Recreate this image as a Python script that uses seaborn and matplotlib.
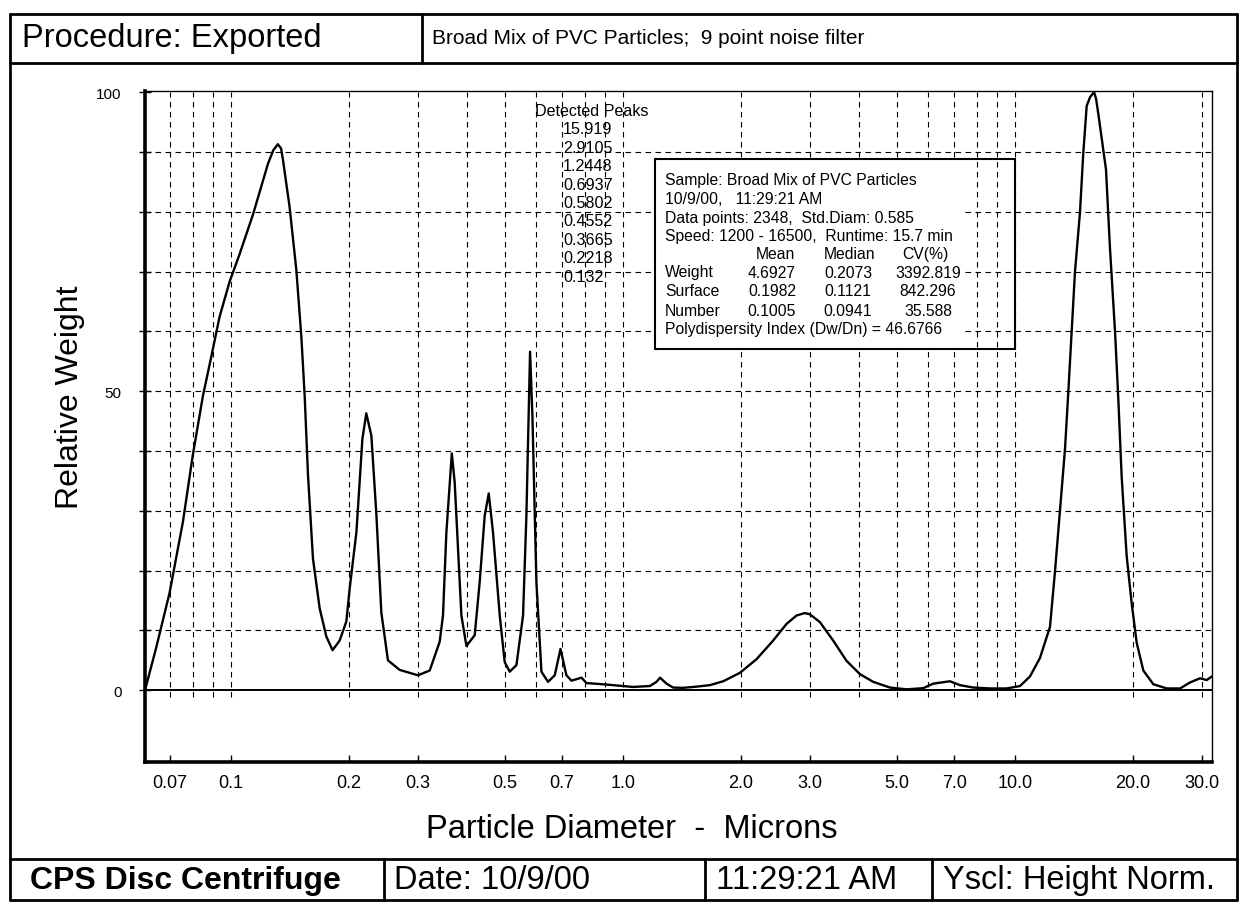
import numpy as np
import pandas as pd
import seaborn as sns
import matplotlib.pyplot as plt
from matplotlib.lines import Line2D
from matplotlib.patches import Rectangle
from matplotlib.ticker import NullLocator

## data
diameter = [0.0605, 0.0646, 0.0699, 0.0756, 0.0801, 0.0850, 0.0893, 0.0937, 0.0994, 0.1054,
            0.114, 0.1245, 0.1285, 0.132, 0.1345, 0.136, 0.1414, 0.1471, 0.1515, 0.1545,
            0.1575, 0.1622, 0.1687, 0.1754, 0.182, 0.1897, 0.1973, 0.2012, 0.2093, 0.2168,
            0.2218, 0.2285, 0.2353, 0.2423, 0.2519, 0.2699, 0.3005, 0.3219, 0.3413, 0.348,
            0.355, 0.3665, 0.3727, 0.38, 0.3877, 0.3993, 0.4192, 0.4317, 0.4446, 0.4552,
            0.4668, 0.4856, 0.5, 0.5149, 0.5356, 0.5568, 0.5679, 0.5802, 0.5883, 0.6022,
            0.6203, 0.6448, 0.6707, 0.6937, 0.7183, 0.7398, 0.785, 0.8078, 0.9088, 1.0605,
            1.1719, 1.219, 1.2448, 1.2926, 1.3437, 1.4249, 1.5417, 1.6672, 1.803, 1.9883,
            2.1938, 2.4172, 2.6161, 2.7745, 2.9105, 2.9992, 3.1807, 3.4399, 3.7213, 4.0236,
            4.3511, 4.7986, 5.2919, 5.8372, 6.1885, 6.8265, 7.2394, 7.8268, 8.6358, 9.5238,
            10.299, 10.922, 11.583, 12.284, 12.647, 13.024, 13.414, 13.677, 13.95, 14.225,
            14.648, 14.935, 15.236, 15.55, 15.919, 16.1, 16.312, 17.065, 17.47, 17.991,
            18.343, 18.714, 19.271, 19.846, 20.441, 21.249, 22.533, 24.378, 26.363, 27.954,
            29.643, 30.832, 31.753]
weight = [0, 7.1, 16.3, 28.2, 39.3, 49.2, 55.8, 62.4, 68.3, 72.9,
          79.5, 88.0, 90.3, 91.3, 90.6, 88.7, 80.8, 70.3, 59.1, 49.2,
          36.1, 22.0, 13.7, 9.0, 6.7, 8.3, 11.5, 17.0, 26.4, 42.0,
          46.3, 42.6, 29.5, 13.0, 5.0, 3.4, 2.5, 3.3, 8.1, 12.5,
          26.4, 39.6, 34.8, 23.7, 12.5, 7.4, 9.2, 18.1, 29.2, 32.9,
          26.4, 12.5, 4.7, 3.1, 4.2, 12.5, 29.2, 56.6, 45.9, 18.1,
          3.1, 1.4, 2.5, 6.9, 2.5, 1.6, 2.1, 1.2, 0.95, 0.55,
          0.7, 1.4, 2.1, 1.1, 0.45, 0.4, 0.6, 0.85, 1.5, 2.9,
          5.2, 8.3, 11.1, 12.5, 12.9, 12.7, 11.4, 8.3, 4.9, 2.7,
          1.4, 0.45, 0.15, 0.35, 1.1, 1.5, 0.85, 0.45, 0.3, 0.3,
          0.7, 2.3, 5.4, 10.6, 19.8, 30.0, 40.3, 49.8, 60.1, 70.0,
          79.9, 89.8, 97.7, 99.2, 100, 98.9, 96.4, 87.1, 73.9, 60.1,
          48.8, 35.6, 22.4, 14.5, 7.9, 3.3, 1.0, 0.3, 0.3, 1.3,
          2.0, 1.7, 2.3]

xtick_vals = [0.07, 0.1, 0.2, 0.3, 0.5, 0.7, 1.0, 2.0, 3.0, 5.0, 7.0, 10.0, 20.0, 30.0]
xtick_labels = ["0.07", "0.1", "0.2", "0.3", "0.5", "0.7", "1.0", "2.0", "3.0", "5.0",
                "7.0", "10.0", "20.0", "30.0"]
grid_x = [0.07, 0.08, 0.09, 0.1, 0.2, 0.3, 0.4, 0.5, 0.6, 0.7, 0.8, 0.9,
          1, 2, 3, 4, 5, 6, 7, 8, 9, 10, 20, 30]

detected_peaks = ["15.919", "2.9105", "1.2448", "0.6937", "0.5802", "0.4552",
                  "0.3665", "0.2218", "0.132"]

stat_rows = ["Weight", "Surface", "Number"]
stat_mean = ["4.6927", "0.1982", "0.1005"]
stat_median = ["0.2073", "0.1121", "0.0941"]
stat_cv = ["3392.819", "842.296", "35.588"]

df = pd.DataFrame({"diameter": diameter, "weight": weight})

sns.set_theme(style="white")
plt.rcParams["font.family"] = ["Liberation Sans", "DejaVu Sans"]

W, H = 1243, 903
def fx(px):
    return px / W
def fy(py):
    return 1 - py / H

fig = plt.figure(figsize=(12.43, 9.03), dpi=100)
ax = fig.add_axes([fx(145), fy(763), fx(1212) - fx(145), fy(92) - fy(763)])

# dashed grid first, curve on top
dash = (0, (5, 4))
ax.vlines(grid_x, -1.2, 100, colors="black", linestyles=[dash], lw=0.8)
for gy in range(10, 100, 10):
    ax.axhline(gy, color="black", ls=dash, lw=0.8)
ax.axhline(0, color="black", lw=1.4)

sns.lineplot(data=df, x="diameter", y="weight", ax=ax, color="black", lw=1.7,
             sort=False, estimator=None)

ax.set_xscale("log")
ax.set_xlim(0.0605, 31.8)
ax.set_ylim(-12, 100.2)
ax.set_xticks(xtick_vals)
ax.set_xticklabels(xtick_labels)
ax.xaxis.set_minor_locator(NullLocator())
ax.set_yticks([0, 50, 100])
ax.set_yticks(list(range(10, 100, 10)), minor=True)
ax.tick_params(axis="x", which="major", bottom=True, direction="in", length=5,
               width=1, pad=9, labelsize=13, color="black", labelcolor="black")
ax.tick_params(axis="y", which="both", left=True, direction="inout", length=8,
               width=1, pad=13, labelsize=11, color="black", labelcolor="black")
ax.set_xlabel("")
ax.set_ylabel("")
for side, lw in [("left", 2.6), ("bottom", 2.6), ("top", 1.0), ("right", 1.0)]:
    ax.spines[side].set_color("black")
    ax.spines[side].set_linewidth(lw)

# detected peaks list
fig.text(fx(535), fy(112), "Detected Peaks", fontsize=11.6, va="center", ha="left",
         color="black")
for i, p in enumerate(detected_peaks):
    fig.text(fx(563), fy(130 + i * 18.4), p, fontsize=11.6, va="center", ha="left",
             color="black")

# statistics box
fig.add_artist(Rectangle((fx(655), fy(349)), fx(964) - fx(655), fy(161) - fy(349),
                         transform=fig.transFigure, facecolor="white", edgecolor="none",
                         zorder=3))
fig.add_artist(Rectangle((fx(655), fy(350)), fx(1015) - fx(655), fy(160) - fy(350),
                         transform=fig.transFigure, facecolor="none", edgecolor="black",
                         lw=1.5, zorder=4))
box_lines = ["Sample: Broad Mix of PVC Particles",
             "10/9/00,   11:29:21 AM",
             "Data points: 2348,  Std.Diam: 0.585",
             "Speed: 1200 - 16500,  Runtime: 15.7 min"]
for i, s in enumerate(box_lines):
    fig.text(fx(665), fy(181 + i * 18.6), s, fontsize=11.3, va="center", ha="left",
             color="black", zorder=5)
for s, cx in [("Mean", 775), ("Median", 850), ("CV(%)", 925)]:
    fig.text(fx(cx), fy(255), s, fontsize=11.3, va="center", ha="center", color="black",
             zorder=5)
for i, name in enumerate(stat_rows):
    yy = fy(273 + i * 19)
    fig.text(fx(665), yy, name, fontsize=11.3, va="center", ha="left", color="black",
             zorder=5)
    fig.text(fx(772), yy, stat_mean[i], fontsize=11.3, va="center", ha="center",
             color="black", zorder=5)
    fig.text(fx(848), yy, stat_median[i], fontsize=11.3, va="center", ha="center",
             color="black", zorder=5)
    fig.text(fx(928), yy, stat_cv[i], fontsize=11.3, va="center", ha="center",
             color="black", zorder=5)
fig.text(fx(665), fy(330), "Polydispersity Index (Dw/Dn) = 46.6766", fontsize=11.3,
         va="center", ha="left", color="black", zorder=5)

# axis titles
fig.text(fx(70), fy(397), "Relative Weight", rotation=90, fontsize=23,
         ha="center", va="center", color="black")
fig.text(fx(632), fy(830), "Particle Diameter  -  Microns", fontsize=23.5,
         ha="center", va="center", color="black")

# report frame, header and footer cells
def seg(x0, y0, x1, y1, lw=2.0):
    fig.add_artist(Line2D([fx(x0), fx(x1)], [fy(y0), fy(y1)], transform=fig.transFigure,
                          color="black", lw=lw))

seg(10, 15, 1237, 15)
seg(10, 901, 1237, 901)
seg(10, 15, 10, 901)
seg(1237, 15, 1237, 901)
seg(10, 64, 1237, 64)
seg(422, 15, 422, 64)
seg(10, 860, 1237, 860)
for xd in [384, 705, 932]:
    seg(xd, 860, xd, 901)

fig.text(fx(22), fy(38), "Procedure: Exported", fontsize=23.5, va="center", ha="left",
         color="black")
fig.text(fx(432), fy(39), "Broad Mix of PVC Particles;  9 point noise filter",
         fontsize=15, va="center", ha="left", color="black")
fig.text(fx(30), fy(881), "CPS Disc Centrifuge", fontsize=23, fontweight="bold",
         va="center", ha="left", color="black")
fig.text(fx(394), fy(881), "Date: 10/9/00", fontsize=23.5, va="center", ha="left",
         color="black")
fig.text(fx(716), fy(881), "11:29:21 AM", fontsize=23.5, va="center", ha="left",
         color="black")
fig.text(fx(943), fy(881), "Yscl: Height Norm.", fontsize=23.5, va="center", ha="left",
         color="black")

fig.savefig("out.png", dpi=100, facecolor="white")
